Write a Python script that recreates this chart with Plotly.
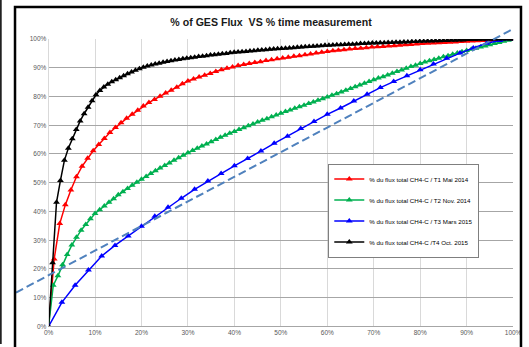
import plotly.graph_objects as go

# ---------------- data (percent) ----------------
t4_x = [0, 0.85, 1.7, 2.55, 3.4, 4.25, 5.1, 5.95, 6.8, 7.65, 8.5, 9.35, 10.2, 11.05, 11.9, 12.75,
        13.6, 14.45, 15.3, 16.15, 17, 17.85, 18.7, 19.55, 20.4, 21.25, 22.1, 22.95, 23.8, 24.65,
        25.5, 26.35, 27.2, 28.05, 28.9, 29.75, 30.6, 31.45, 32.3, 33.15, 34, 34.85, 35.7, 36.55,
        37.4, 38.25, 39.1, 39.95, 40.8, 41.65, 42.5, 43.35, 44.2, 45.05, 45.9, 46.75, 47.6, 48.45,
        49.3, 50.15, 51, 51.85, 52.7, 53.55, 54.4, 55.25, 56.1, 56.95, 57.8, 58.65, 59.5, 60.35,
        61.2, 62.05, 62.9, 63.75, 64.6, 65.45, 66.3, 67.15, 68, 68.85, 69.7, 70.55, 71.4, 72.25,
        73.1, 73.95, 74.8, 75.65, 76.5, 77.35, 78.2, 79.05, 79.9, 80.75, 81.6, 82.45, 83.3, 84.15,
        85, 85.85, 86.7, 87.55, 88.4, 89.25, 90.1, 90.95, 91.8, 92.65, 93.5, 94.35, 95.2, 96.05,
        96.9, 97.75, 98.6, 99.45, 100]
t4_y = [0, 22.2, 43.2, 50.8, 57.8, 62.0, 65.3, 68.5, 71.5, 74.0, 76.3, 78.5, 80.6, 82.1, 83.3, 84.3,
        85.1, 85.8, 86.5, 87.2, 87.9, 88.5, 89.1, 89.7, 90.2, 90.6, 91.0, 91.3, 91.6, 91.9,
        92.2, 92.4, 92.7, 92.9, 93.1, 93.3, 93.5, 93.7, 93.9, 94.0, 94.2, 94.4, 94.5, 94.7,
        94.9, 95.0, 95.2, 95.4, 95.5, 95.6, 95.7, 95.8, 95.9, 96.1, 96.2, 96.3, 96.4, 96.5,
        96.6, 96.7, 96.8, 96.9, 97.0, 97.1, 97.2, 97.3, 97.4, 97.5, 97.6, 97.7, 97.8, 97.8,
        97.9, 98.0, 98.0, 98.1, 98.2, 98.2, 98.3, 98.4, 98.4, 98.5, 98.6, 98.6, 98.7, 98.7,
        98.8, 98.8, 98.9, 98.9, 99.0, 99.0, 99.1, 99.1, 99.2, 99.2, 99.3, 99.3, 99.4, 99.4,
        99.5, 99.5, 99.6, 99.6, 99.7, 99.7, 99.8, 99.8, 99.8, 99.9, 99.9, 99.9, 99.9, 100,
        100, 100, 100, 100, 100]

t1_x = [0, 1.2, 2.4, 3.6, 4.8, 6.0, 7.2, 8.4, 9.6, 10.8, 12.0, 13.2, 14.4, 15.6, 16.8, 18.0, 19.2,
        20.4, 21.6, 22.8, 24.0, 25.2, 26.4, 27.6, 28.8, 30.0, 31.2, 32.4, 33.6, 34.8, 36.0, 37.2,
        38.4, 39.6, 40.8, 42.0, 43.2, 44.4, 45.6, 46.8, 48.0, 49.2, 50.4, 51.6, 52.8, 54.0, 55.2,
        56.4, 57.6, 58.8, 60.0, 61.2, 62.4, 63.6, 64.8, 66.0, 67.2, 68.4, 69.6, 70.8, 72.0, 73.2,
        74.4, 75.6, 76.8, 78.0, 79.2, 80.4, 81.6, 82.8, 84.0, 85.2, 86.4, 87.6, 88.8, 90.0, 91.2,
        92.4, 93.6, 94.8, 96.0, 97.2, 98.4, 99.6, 100]
t1_y = [0, 23.5, 35.8, 42.3, 47.5, 52.1, 55.7, 58.5, 61.1, 63.3, 65.4, 67.5, 69.2, 70.9, 72.4, 73.8, 75.2,
        76.7, 77.9, 79.0, 80.1, 81.2, 82.2, 83.2, 84.4, 85.4, 86.1, 86.8, 87.4, 88.0, 88.7, 89.3,
        89.8, 90.3, 90.8, 91.1, 91.5, 91.8, 92.1, 92.5, 92.8, 93.1, 93.4, 93.7, 94.0, 94.2, 94.5,
        94.8, 95.1, 95.4, 95.7, 95.9, 96.1, 96.3, 96.5, 96.7, 96.8, 97.0, 97.2, 97.3, 97.4, 97.6,
        97.7, 97.8, 98.0, 98.1, 98.3, 98.4, 98.5, 98.6, 98.7, 98.8, 98.9, 99.0, 99.1, 99.2, 99.3,
        99.4, 99.5, 99.6, 99.7, 99.8, 99.9, 100, 100]

t2_x = [0, 1, 2, 3, 4, 5, 6, 7, 8, 9, 10, 11, 12, 13, 14, 15, 16, 17, 18, 19, 20, 21, 22, 23, 24, 25,
        26, 27, 28, 29, 30, 31, 32, 33, 34, 35, 36, 37, 38, 39, 40, 41, 42, 43, 44, 45, 46, 47, 48,
        49, 50, 51, 52, 53, 54, 55, 56, 57, 58, 59, 60, 61, 62, 63, 64, 65, 66, 67, 68, 69, 70, 71,
        72, 73, 74, 75, 76, 77, 78, 79, 80, 81, 82, 83, 84, 85, 86, 87, 88, 89, 90, 91, 92, 93, 94,
        95, 96, 97, 98, 99, 100]
t2_y = [0, 14.3, 17.6, 21.5, 25.0, 28.3, 31.0, 33.5, 35.5, 37.5, 39.3, 40.6, 41.9, 43.2, 44.4, 45.8,
        46.9, 48.0, 49.1, 50.2, 51.2, 52.2, 53.2, 54.2, 55.1, 56.0, 56.9, 57.8, 58.7, 59.6, 60.4,
        61.2, 62.0, 62.8, 63.5, 64.3, 65.0, 65.8, 66.5, 67.2, 67.8, 68.5, 69.1, 69.8, 70.4, 71.1,
        71.7, 72.3, 73.0, 73.6, 74.2, 74.8, 75.3, 75.9, 76.4, 77.0, 77.6, 78.1, 78.7, 79.2, 79.8,
        80.4, 81.0, 81.6, 82.2, 82.8, 83.4, 84.0, 84.6, 85.2, 85.8, 86.4, 86.9, 87.5, 88.1, 88.7,
        89.2, 89.8, 90.4, 90.9, 91.5, 92.0, 92.4, 92.9, 93.3, 93.8, 94.2, 94.7, 95.1, 95.6, 96.0,
        96.4, 96.8, 97.2, 97.6, 98.0, 98.4, 98.8, 99.2, 99.6, 100]

t3_x = [0, 2.86, 5.71, 8.57, 11.43, 14.29, 17.14, 20, 22.86, 25.71, 28.57, 31.43, 34.29, 37.14, 40,
        42.86, 45.71, 48.57, 51.43, 54.29, 57.14, 60, 62.86, 65.71, 68.57, 71.43, 74.29, 77.14, 80,
        82.86, 85.71, 88.57, 91.43, 94.29, 97.14, 100]
t3_y = [0, 8.4, 14.3, 19.6, 24.5, 28.2, 31.5, 34.9, 38.3, 41.5, 44.6, 47.7, 50.6, 53.2, 55.9,
        58.4, 61.0, 63.7, 66.2, 68.9, 71.3, 73.8, 76.0, 78.4, 80.8, 83.1, 85.2, 87.2, 89.3,
        91.3, 93.3, 95.1, 96.9, 98.5, 99.5, 100]

series_names = ["% du flux total CH4-C / T1 Mai 2014",
                "% du flux total CH4-C / T2 Nov. 2014",
                "% du flux total CH4-C / T3 Mars 2015",
                "% du flux total CH4-C /T4 Oct. 2015"]
series_colors = ["#FF0000", "#00B050", "#0000FF", "#000000"]

trend_slope = 0.857       # linear trend (fraction per fraction)
trend_intercept = 0.178

title_text = "% of GES Flux  VS % time measurement"

# ---------------- layout geometry ----------------
W, H = 529, 347
ML, MR, MT, MB = 16, 3, 8, 0
PW, PH = W - ML - MR, H - MT - MB


def px_x(p):
    return (p - ML) / PW


def px_y(p):
    return (H - MB - p) / PH


xdom = [px_x(49), px_x(519)]
ydom = [px_y(329.3), px_y(39.3)]
xr = [0, 1]
yr = [0, 1]
# extended axes that share the same scale but span the whole frame
ax = (xr[1] - xr[0]) / (xdom[1] - xdom[0])
ay = (yr[1] - yr[0]) / (ydom[1] - ydom[0])
x2r = [xr[0] - xdom[0] * ax, xr[1] + (1 - xdom[1]) * ax]
y2r = [yr[0] - ydom[0] * ay, yr[1] + (1 - ydom[1]) * ay]

fig = go.Figure()

all_x = [t1_x, t2_x, t3_x, t4_x]
all_y = [t1_y, t2_y, t3_y, t4_y]
for name, col, xs, ys in zip(series_names, series_colors, all_x, all_y):
    fig.add_trace(go.Scatter(
        x=[v / 100 for v in xs], y=[v / 100 for v in ys], name=name,
        mode="lines+markers",
        line=dict(color=col, width=1.5),
        marker=dict(symbol="triangle-up", size=6, color=col),
        legendgroup=name,
    ))

tx = [x2r[0], 1.0]
fig.add_trace(go.Scatter(
    x=tx, y=[trend_intercept + trend_slope * v for v in tx],
    xaxis="x2", yaxis="y2", mode="lines", showlegend=False,
    line=dict(color="#4F81BD", width=2, dash="8px,4px"),
    hoverinfo="skip",
))

tickfont = dict(family="Liberation Sans, Arial, sans-serif", size=6.5, color="#595959")
fig.update_layout(
    width=W, height=H,
    margin=dict(l=ML, r=MR, t=MT, b=MB),
    paper_bgcolor="white", plot_bgcolor="rgba(0,0,0,0)",
    title=dict(text="<b>" + title_text + "</b>", x=271 / W, xanchor="center",
               y=1 - 22 / H, yanchor="middle",
               font=dict(family="Liberation Sans, Arial", size=10.6, color="#1a1a1a")),
    xaxis=dict(domain=xdom, range=xr, tickvals=[i / 10 for i in range(11)], tickformat=".0%",
               showgrid=True, gridcolor="#D9D9D9", gridwidth=1, zeroline=False,
               showline=True, linecolor="#A6A6A6", linewidth=1,
               ticks="", tickfont=tickfont, anchor="y", fixedrange=True),
    yaxis=dict(domain=ydom, range=yr, tickvals=[i / 10 for i in range(11)], tickformat=".0%",
               showgrid=True, gridcolor="#A6A6A6", gridwidth=1, zeroline=False,
               showline=True, linecolor="#D9D9D9", linewidth=1,
               ticks="", tickfont=tickfont, anchor="x", fixedrange=True),
    xaxis2=dict(domain=[0, 1], range=x2r, visible=False, anchor="y2", fixedrange=True),
    yaxis2=dict(domain=[0, 1], range=y2r, visible=False, anchor="x2", fixedrange=True),
    legend=dict(x=px_x(332), y=px_y(165), xanchor="left", yanchor="top",
                bgcolor="white", bordercolor="#7F7F7F", borderwidth=1,
                font=dict(family="Liberation Sans, Arial", size=6.2, color="#000000"),
                tracegroupgap=2, itemwidth=30),
    showlegend=True,
    shapes=[
        dict(type="rect", xref="paper", yref="paper",
             x0=px_x(15), x1=px_x(527), y0=px_y(7), y1=px_y(360),
             line=dict(color="black", width=2.5), fillcolor="rgba(0,0,0,0)"),
        dict(type="line", xref="paper", yref="paper",
             x0=px_x(0.7), x1=px_x(0.7), y0=px_y(0), y1=px_y(347),
             line=dict(color="black", width=1.5)),
    ],
)

fig.write_html("out.html")
